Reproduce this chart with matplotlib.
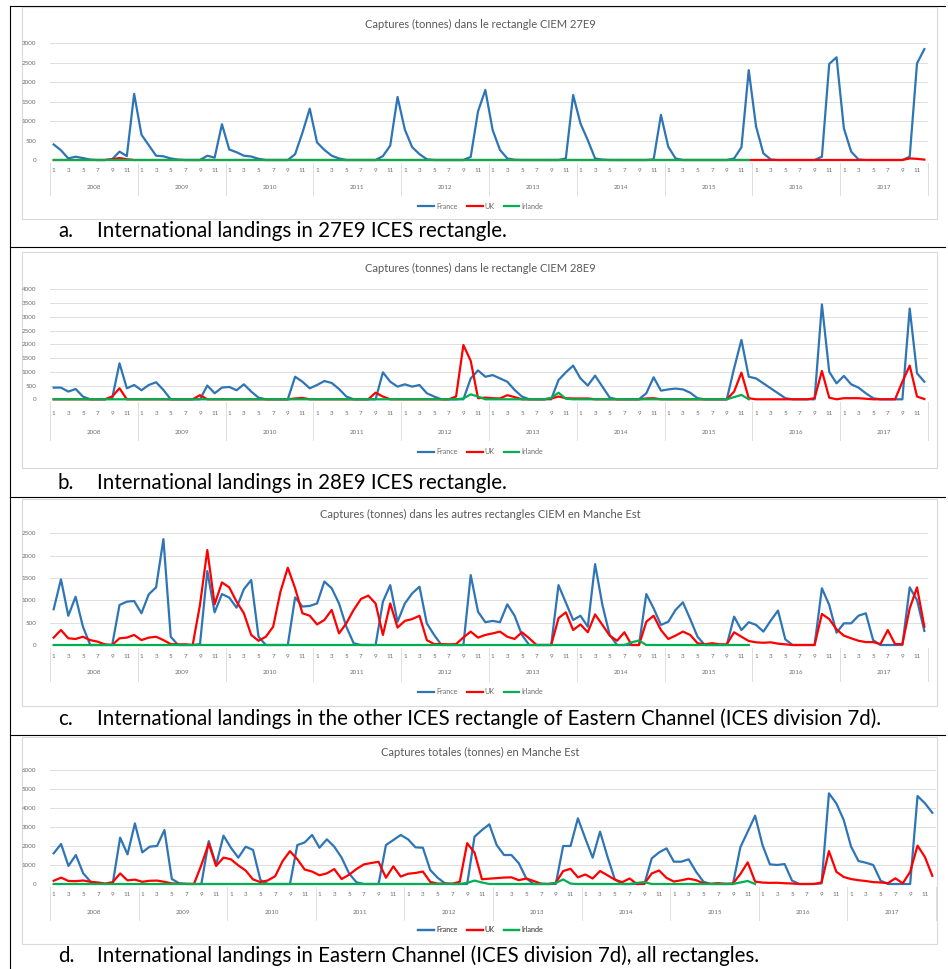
import numpy as np
import matplotlib.pyplot as plt
from matplotlib.patches import Rectangle
from matplotlib.transforms import blended_transform_factory

plt.rcParams['font.family'] = ['Lato', 'DejaVu Sans']

nan = np.nan
mois = [1, 3, 5, 7, 9, 11]
annees = [2008, 2009, 2010, 2011, 2012, 2013, 2014, 2015, 2016, 2017]
pays = ['France', 'UK', 'Irlande']
couleurs = ['#2e75b6', '#ff0000', '#00b050']

# Captures mensuelles (tonnes), janvier 2008 -> décembre 2017
france_a = [
    400, 250, 40, 85, 50, 10, 0, 0, 20, 215, 100, 1700,
    650, 380, 110, 95, 40, 10, 0, 0, 0, 110, 60, 920,
    270, 200, 110, 90, 30, 0, 0, 0, 0, 150, 700, 1320,
    450, 260, 110, 40, 0, 0, 0, 0, 0, 100, 370, 1620,
    780, 330, 150, 20, 0, 0, 0, 0, 0, 80, 1250, 1800,
    770, 260, 40, 5, 0, 0, 0, 0, 0, 0, 40, 1670,
    940, 510, 40, 10, 0, 0, 0, 0, 0, 0, 15, 1160,
    340, 40, 0, 0, 0, 0, 0, 0, 0, 40, 325, 2310,
    860, 170, 15, 0, 0, 0, 0, 0, 0, 85, 2470, 2640,
    815, 215, 15, 0, 0, 0, 0, 0, 0, 85, 2485, 2850,
]
uk_a = [
    0, 0, 0, 0, 0, 0, 0, 0, 20, 50, 20, 0,
    0, 0, 0, 0, 0, 0, 0, 0, 0, 0, 0, 0,
    0, 0, 0, 0, 0, 0, 0, 0, 0, 0, 0, 0,
    0, 0, 0, 0, 0, 0, 0, 0, 0, 0, 0, 0,
    0, 0, 0, 0, 0, 0, 0, 0, 0, 0, 0, 0,
    0, 0, 0, 0, 0, 0, 0, 0, 0, 0, 0, 0,
    0, 0, 0, 0, 0, 0, 0, 0, 0, 0, 0, 0,
    0, 0, 0, 0, 0, 0, 0, 0, 0, 0, 0, 0,
    0, 0, 0, 0, 0, 0, 0, 0, 0, 0, 0, 0,
    0, 0, 0, 0, 0, 0, 0, 0, 0, 40, 30, 10,
]
irlande_a = [
    0, 0, 0, 0, 0, 0, 0, 0, 0, 0, 0, 0,
    0, 0, 0, 0, 0, 0, 0, 0, 0, 0, 0, 0,
    0, 0, 0, 0, 0, 0, 0, 0, 0, 0, 0, 0,
    0, 0, 0, 0, 0, 0, 0, 0, 0, 0, 0, 0,
    0, 0, 0, 0, 0, 0, 0, 0, 0, 0, 0, 0,
    0, 0, 0, 0, 0, 0, 0, 0, 0, 0, 0, 0,
    0, 0, 0, 0, 0, 0, 0, 0, 0, 0, 0, 0,
    0, 0, 0, 0, 0, 0, 0, 0, 0, 0, 0, 0,
    nan, nan, nan, nan, nan, nan, nan, nan, nan, nan, nan, nan,
    nan, nan, nan, nan, nan, nan, nan, nan, nan, nan, nan, nan,
]

france_b = [
    425, 425, 280, 375, 100, 0, 0, 0, 40, 1310, 400, 520,
    330, 520, 620, 340, 0, 0, 0, 0, 0, 500, 220, 425,
    450, 330, 545, 280, 60, 0, 0, 0, 0, 820, 640, 400,
    520, 665, 595, 375, 100, 0, 0, 0, 0, 980, 640, 460,
    545, 460, 520, 220, 100, 0, 0, 0, 0, 760, 1050, 820,
    880, 760, 640, 340, 100, 0, 0, 0, 0, 700, 980, 1225,
    760, 500, 860, 460, 60, 0, 0, 0, 0, 220, 800, 315,
    360, 390, 360, 240, 40, 0, 0, 0, 0, 1130, 2160, 820,
    760, 580, 400, 220, 40, 0, 0, 0, 0, 3450, 1000, 580,
    850, 545, 425, 220, 40, 0, 0, 0, 0, 3300, 945, 640,
]
uk_b = [
    0, 0, 0, 0, 0, 0, 0, 0, 100, 400, 0, 0,
    0, 0, 0, 0, 0, 0, 0, 0, 150, 0, 0, 0,
    0, 0, 0, 0, 0, 0, 0, 0, 0, 30, 50, 0,
    0, 0, 0, 0, 0, 0, 0, 0, 240, 100, 0, 0,
    0, 0, 0, 0, 0, 0, 0, 100, 1975, 1400, 40, 60,
    40, 30, 150, 80, 0, 0, 0, 0, 30, 100, 40, 30,
    30, 30, 0, 0, 0, 0, 0, 0, 0, 30, 40, 0,
    0, 0, 0, 0, 0, 0, 0, 0, 0, 280, 970, 40,
    0, 0, 0, 0, 0, 0, 0, 0, 40, 1030, 60, 0,
    40, 40, 40, 20, 0, 0, 0, 0, 640, 1225, 100, 10,
]
irlande_b = [
    0, 0, 0, 0, 0, 0, 0, 0, 0, 0, 0, 0,
    0, 0, 0, 0, 0, 0, 0, 0, 0, 0, 0, 0,
    0, 0, 0, 0, 0, 0, 0, 0, 0, 0, 0, 0,
    0, 0, 0, 0, 0, 0, 0, 0, 0, 0, 0, 0,
    0, 0, 0, 0, 0, 0, 0, 0, 30, 180, 100, 0,
    0, 0, 0, 0, 0, 0, 0, 0, 50, 240, 20, 0,
    0, 0, 0, 0, 0, 0, 0, 0, 0, 0, 0, 0,
    0, 0, 0, 0, 0, 0, 0, 0, 0, 80, 160, 0,
    nan, nan, nan, nan, nan, nan, nan, nan, nan, nan, nan, nan,
    nan, nan, nan, nan, nan, nan, nan, nan, nan, nan, nan, nan,
]

france_c = [
    800, 1470, 655, 1080, 410, 0, 0, 0, 0, 895, 970, 985,
    710, 1135, 1290, 2370, 185, 0, 0, 0, 20, 1655, 730, 1140,
    1060, 835, 1250, 1455, 185, 0, 0, 0, 0, 1065, 860, 875,
    930, 1420, 1270, 930, 410, 40, 0, 0, 0, 970, 1340, 520,
    930, 1155, 1305, 485, 225, 0, 0, 0, 0, 1565, 745, 510,
    540, 510, 910, 655, 225, 0, 0, 0, 0, 1340, 950, 560,
    655, 410, 1810, 895, 225, 0, 0, 0, 0, 1140, 820, 450,
    520, 785, 955, 580, 185, 0, 0, 0, 0, 635, 335, 510,
    450, 300, 545, 770, 125, 0, 0, 0, 0, 1270, 895, 275,
    485, 485, 655, 710, 110, 0, 0, 0, 0, 1290, 1005, 315,
]
uk_c = [
    165, 335, 150, 135, 185, 110, 75, 15, 0, 150, 165, 225,
    110, 165, 185, 110, 20, 15, 15, 0, 900, 2125, 910, 1400,
    1290, 970, 710, 225, 95, 185, 410, 1195, 1730, 1270, 710, 655,
    460, 560, 785, 260, 485, 785, 1030, 1105, 930, 225, 930, 390,
    540, 580, 655, 110, 20, 20, 15, 20, 170, 300, 165, 225,
    260, 300, 185, 135, 285, 150, 0, 0, 0, 600, 730, 335,
    460, 285, 685, 450, 210, 95, 285, 0, 0, 520, 655, 335,
    135, 210, 300, 225, 40, 15, 40, 15, 15, 285, 185, 90,
    60, 50, 60, 30, 15, 0, 0, 0, 0, 695, 580, 350,
    210, 150, 95, 65, 65, 20, 335, 20, 20, 820, 1290, 410,
]
irlande_c = [
    0, 0, 0, 0, 0, 0, 0, 0, 0, 0, 0, 0,
    0, 0, 0, 0, 0, 0, 0, 0, 0, 0, 0, 0,
    0, 0, 0, 0, 0, 0, 0, 0, 0, 0, 0, 0,
    0, 0, 0, 0, 0, 0, 0, 0, 0, 0, 0, 0,
    0, 0, 0, 0, 0, 0, 0, 0, 0, 0, 0, 0,
    0, 0, 0, 0, 0, 0, 0, 0, 0, 0, 0, 0,
    0, 0, 0, 0, 0, 0, 0, 60, 100, 0, 0, 0,
    0, 0, 0, 0, 0, 0, 0, 0, 0, 0, 0, 0,
    nan, nan, nan, nan, nan, nan, nan, nan, nan, nan, nan, nan,
    nan, nan, nan, nan, nan, nan, nan, nan, nan, nan, nan, nan,
]

france_d = [
    1615, 2105, 950, 1525, 560, 120, 35, 0, 35, 2440, 1560, 3190,
    1665, 1965, 2000, 2840, 265, 35, 0, 0, 0, 2260, 1000, 2545,
    1910, 1385, 1965, 1790, 210, 0, 0, 0, 0, 2050, 2190, 2580,
    1910, 2350, 1965, 1385, 560, 90, 0, 0, 0, 2050, 2315, 2580,
    2350, 1930, 1910, 735, 330, 35, 0, 0, 0, 2490, 2840, 3140,
    2050, 1525, 1525, 1090, 300, 0, 0, 0, 0, 2000, 2000, 3455,
    2400, 1385, 2755, 1440, 245, 0, 0, 0, 0, 1350, 1665, 1875,
    1175, 1175, 1300, 650, 120, 0, 0, 0, 0, 1930, 2755, 3595,
    2050, 1035, 1000, 1050, 175, 0, 0, 0, 30, 4770, 4245, 3370,
    1965, 1210, 1120, 1000, 175, 0, 0, 0, 0, 4630, 4250, 3750,
]
uk_d = [
    170, 335, 160, 150, 185, 115, 80, 20, 100, 555, 190, 230,
    115, 170, 180, 115, 30, 15, 10, 0, 1000, 2130, 950, 1390,
    1300, 980, 710, 240, 100, 190, 410, 1200, 1730, 1300, 760, 655,
    460, 560, 785, 260, 485, 785, 1030, 1105, 1170, 330, 930, 390,
    540, 580, 655, 110, 20, 20, 15, 120, 2150, 1650, 250, 280,
    310, 340, 350, 200, 290, 160, 20, 0, 60, 680, 800, 350,
    500, 290, 685, 460, 230, 95, 290, 0, 20, 555, 710, 320,
    130, 195, 280, 200, 40, 10, 45, 10, 25, 520, 1140, 125,
    75, 60, 65, 40, 25, 0, 0, 5, 80, 1730, 645, 370,
    260, 200, 155, 100, 80, 45, 300, 35, 640, 2020, 1420, 430,
]
irlande_d = [
    0, 0, 0, 0, 0, 0, 0, 0, 0, 0, 0, 0,
    0, 0, 0, 0, 0, 0, 0, 0, 0, 0, 0, 0,
    0, 0, 0, 0, 0, 0, 0, 0, 0, 0, 0, 0,
    0, 0, 0, 0, 0, 0, 0, 0, 0, 0, 0, 0,
    0, 0, 0, 0, 0, 0, 0, 0, 60, 180, 80, 0,
    0, 0, 0, 0, 0, 0, 0, 0, 50, 240, 20, 0,
    0, 0, 0, 0, 0, 0, 0, 60, 100, 0, 0, 0,
    0, 0, 0, 0, 0, 0, 0, 0, 0, 80, 160, 0,
    nan, nan, nan, nan, nan, nan, nan, nan, nan, nan, nan, nan,
    nan, nan, nan, nan, nan, nan, nan, nan, nan, nan, nan, nan,
]

titres = [
    "Captures (tonnes) dans le rectangle CIEM 27E9",
    "Captures (tonnes) dans le rectangle CIEM 28E9",
    "Captures (tonnes) dans les autres rectangles CIEM en Manche Est",
    "Captures totales (tonnes) en Manche Est",
]
legendes = [
    ("a.", "International landings in 27E9 ICES rectangle."),
    ("b.", "International landings in 28E9 ICES rectangle."),
    ("c.", "International landings in the other ICES rectangle of Eastern Channel (ICES division 7d)."),
    ("d.", "International landings in Eastern Channel (ICES division 7d), all rectangles."),
]
series = [
    (france_a, uk_a, irlande_a),
    (france_b, uk_b, irlande_b),
    (france_c, uk_c, irlande_c),
    (france_d, uk_d, irlande_d),
]
ymax = [3000, 4000, 2500, 6000]
ypas = [500, 500, 500, 1000]

# mise en page en pixels (haut = 0)
boites = [(22, 7, 937, 219), (22, 252, 937, 468), (22, 499, 937, 706), (22, 737, 937, 944)]
zones = [(50, 928, 43.3, 160), (50, 928, 289.3, 399.3), (50, 928, 533.3, 645), (50, 936, 770, 884)]
y_titre = [24, 268, 514, 752]
dy_mois = [10, 14, 12, 10]
dy_annee = [27, 33, 28, 28]
y_leg = [206, 452, 692, 930]
y_legende = [231, 483, 719, 956]

W, H = 948, 969
gris = '#6e6e6e'
fig = plt.figure(figsize=(W / 100, H / 100), dpi=100)
fond = fig.add_axes([0, 0, 1, 1])
fond.set_xlim(0, W)
fond.set_ylim(H, 0)
fond.axis('off')

# lignes du tableau
fond.plot([10, 10], [6, H], color='black', lw=0.8)
for y in [6, 247, 497, 735]:
    fond.plot([10, 945], [y, y], color='black', lw=0.8)

for k in range(4):
    x0, y0, x1, y1 = boites[k]
    fond.add_patch(Rectangle((x0, y0), x1 - x0, y1 - y0, facecolor='white',
                             edgecolor='#d9d9d9', lw=0.8, zorder=2))
    fond.text(480, y_titre[k], titres[k], ha='center', va='center',
              fontsize=8, color='#595959', zorder=3)
    lettre, texte = legendes[k]
    fond.text(58, y_legende[k], lettre, ha='left', va='center', fontsize=14.8, color='black')
    fond.text(97, y_legende[k], texte, ha='left', va='center', fontsize=14.8, color='black')

    px0, px1, ptop, pbas = zones[k]
    ax = fig.add_axes([px0 / W, 1 - pbas / H, (px1 - px0) / W, (pbas - ptop) / H])
    ax.set_facecolor('none')
    for s in ax.spines.values():
        s.set_visible(False)
    x = np.arange(120)
    for vals, nom, c in zip(series[k], pays, couleurs):
        ax.plot(x, vals, color=c, lw=1.6, label=nom, clip_on=False)
    ax.set_xlim(-0.5, 119.5)
    ax.set_ylim(0, ymax[k])
    ax.set_yticks(np.arange(0, ymax[k] + 1, ypas[k]))
    ax.tick_params(axis='y', length=0, pad=10, labelsize=4.5, labelcolor=gris)
    ax.set_xticks([])
    ax.grid(axis='y', color='#d9d9d9', lw=0.6)
    ax.set_axisbelow(True)

    tr = blended_transform_factory(ax.transData, fond.transData)
    for i in range(0, 120, 2):
        ax.text(i, pbas + dy_mois[k], str(mois[(i % 12) // 2]), transform=tr,
                ha='center', va='center', fontsize=4.5, color=gris)
    for j, an in enumerate(annees):
        ax.text(12 * j + 5.5, pbas + dy_annee[k], str(an), transform=tr,
                ha='center', va='center', fontsize=4.5, color=gris)
    for j in range(11):
        ax.plot([12 * j - 0.5] * 2, [pbas + 3, pbas + dy_annee[k] + 8], transform=tr,
                color='#d9d9d9', lw=0.6, clip_on=False)

    h, l = ax.get_legend_handles_labels()
    fond.legend(h, l, loc='center', bbox_to_anchor=(481, y_leg[k]),
                bbox_transform=fond.transData, ncol=3, frameon=False,
                fontsize=5.2, handlelength=2.2, columnspacing=1.2,
                handletextpad=0.3, labelcolor=gris).set_zorder(4)
    fond.add_artist(fond.get_legend())

fig.savefig('out.png', dpi=100)
